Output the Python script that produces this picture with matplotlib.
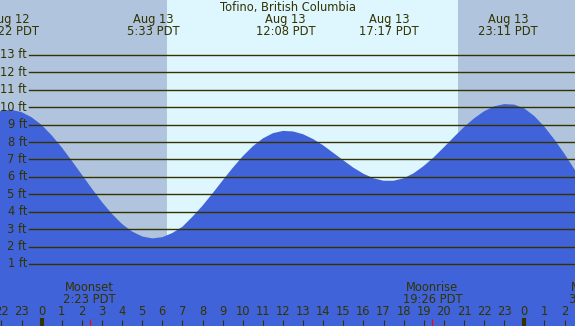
import matplotlib
matplotlib.use('Agg')
import matplotlib.pyplot as plt
import matplotlib.transforms as mtransforms

# ---------------- data ----------------
title = "Tofino, British Columbia"

# hours relative to Aug 13 00:00 PDT
tide_times = [-2.5, -2.0, -1.5, -1.0, -0.5, 0.0, 0.5, 1.0, 1.5, 2.0, 2.5, 3.0, 3.5,
              4.0, 4.5, 5.0, 5.5, 6.0, 6.5, 7.0, 7.5, 8.0, 8.5, 9.0, 9.5, 10.0,
              10.5, 11.0, 11.5, 12.0, 12.5, 13.0, 13.5, 14.0, 14.5, 15.0, 15.5,
              16.0, 16.5, 17.0, 17.5, 18.0, 18.5, 19.0, 19.5, 20.0, 20.5, 21.0,
              21.5, 22.0, 22.5, 23.0, 23.5, 24.0, 24.5, 25.0, 25.5, 26.0, 26.5, 27.0]
tide_heights = [9.62, 9.80, 9.85, 9.72, 9.42, 8.98, 8.38, 7.69, 6.92, 6.12, 5.32, 4.55, 3.87,
                3.29, 2.86, 2.58, 2.47, 2.54, 2.78, 3.14, 3.72, 4.35, 5.06, 5.80, 6.52, 7.19,
                7.76, 8.21, 8.51, 8.64, 8.61, 8.45, 8.17, 7.81, 7.38, 6.95, 6.53,
                6.18, 5.92, 5.78, 5.78, 5.92, 6.21, 6.63, 7.13, 7.70, 8.29, 8.86,
                9.36, 9.77, 10.05, 10.18, 10.15, 9.93, 9.49, 8.88, 8.14, 7.32, 6.42, 5.49]

extreme_times = [-1.633, 5.55, 12.133, 17.283, 23.183]
extreme_dates = ["Aug 12", "Aug 13", "Aug 13", "Aug 13", "Aug 13"]
extreme_labels = ["22:22 PDT", "5:33 PDT", "12:08 PDT", "17:17 PDT", "23:11 PDT"]

moon_times = [2.383, 19.433, 27.533]
moon_events = ["Moonset", "Moonrise", "Moonset"]
moon_labels = ["2:23 PDT", "19:26 PDT", "3:32 PDT"]

sunrise = 6.216
sunset = 20.686

ft_levels = [1, 2, 3, 4, 5, 6, 7, 8, 9, 10, 11, 12, 13]
hour_ticks = list(range(-2, 27))

# ---------------- style ----------------
W, H = 575, 326
night_c = '#B0C4DE'
day_c = '#DEF6FE'
water_c = '#4163D9'
ink = '#333300'
fs = 8.3

fig = plt.figure(figsize=(W / 100, H / 100), dpi=100)
ax = fig.add_axes([0, 0, 1, 1])
x0, x1 = -2.074, 26.52
ax.set_xlim(x0, x1)
ax.set_ylim(-2.561, 16.157)
ax.axis('off')

trans = mtransforms.blended_transform_factory(ax.transData, ax.transAxes)


def ypx(p):
    return 1 - p / H


# day / night
ax.axvspan(x0 - 1, sunrise, color=night_c, lw=0, zorder=0)
ax.axvspan(sunrise, sunset, color=day_c, lw=0, zorder=0)
ax.axvspan(sunset, x1 + 1, color=night_c, lw=0, zorder=0)

# water
ax.fill_between(tide_times, tide_heights, -5, color=water_c, lw=0, zorder=1)

# height gridlines
for ft in ft_levels:
    ax.axhline(ft, xmin=29 / W, xmax=1, color=ink, lw=1.0, zorder=2)
    ax.text(27 / W, ft, f"{ft} ft", transform=mtransforms.blended_transform_factory(ax.transAxes, ax.transData),
            ha='right', va='center', fontsize=fs, color=ink, zorder=3)

# title
fig.text(0.5, ypx(7.5), title, ha='center', va='center', fontsize=fs, color=ink)

# tide extremes
for t, d, lab in zip(extreme_times, extreme_dates, extreme_labels):
    ax.text(t, ypx(20), d, transform=trans, ha='center', va='center', fontsize=fs, color=ink)
    ax.text(t, ypx(31.7), lab, transform=trans, ha='center', va='center', fontsize=fs, color=ink)

# moon events
for t, ev, lab in zip(moon_times, moon_events, moon_labels):
    ax.text(t, ypx(287.3), ev, transform=trans, ha='center', va='center', fontsize=fs, color=ink)
    ax.text(t, ypx(299.3), lab, transform=trans, ha='center', va='center', fontsize=fs, color=ink)
    ax.plot([t, t], [ypx(326), ypx(319)], transform=trans, color='red', lw=0.8, zorder=4,
            solid_capstyle='butt')

# hour ticks and labels
for h in hour_ticks:
    ax.text(h, ypx(311.7), str(h % 24), transform=trans, ha='center', va='center',
            fontsize=fs, color=ink)
    if h % 24 == 0:
        ax.plot([h, h], [ypx(326), ypx(318)], transform=trans, color=ink, lw=3.0,
                solid_capstyle='butt', zorder=4)
    else:
        ax.plot([h, h], [ypx(326), ypx(319.5)], transform=trans, color=ink, lw=0.8,
                solid_capstyle='butt', zorder=4)

fig.savefig('out.png', dpi=100)
